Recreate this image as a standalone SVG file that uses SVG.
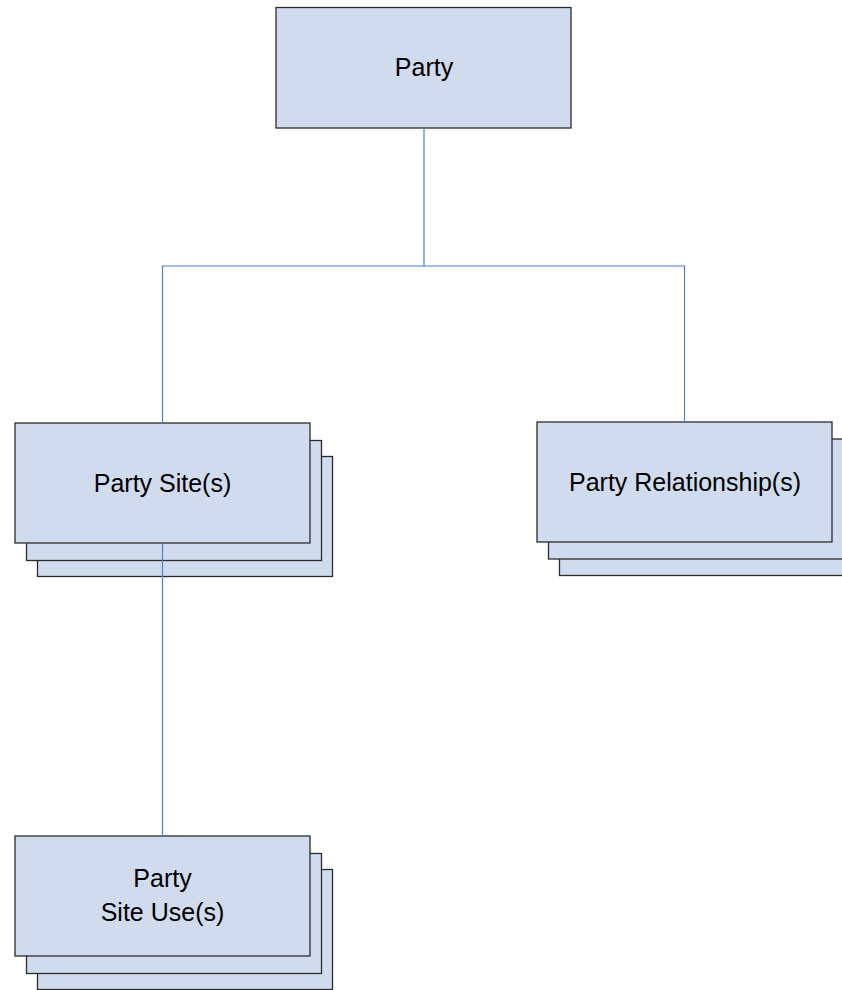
<svg xmlns="http://www.w3.org/2000/svg" width="842" height="990" viewBox="0 0 842 990">
  <style>
    .box { fill: #d0dcee; stroke: #2b2b2b; stroke-width: 1.3; }
    .label { font-family: "Liberation Sans", Arial, sans-serif; font-size: 25px; fill: #000; text-anchor: middle; }
    .conn { fill: none; stroke: #4f7fcf; stroke-width: 1.2; }
  </style>
  <rect width="842" height="990" fill="#ffffff"/>

  <!-- stacked boxes (back layers first) -->
  <g id="party-site">
    <rect class="box" x="37.5" y="456.5" width="295" height="120"/>
    <rect class="box" x="26.5" y="440.5" width="295" height="120"/>
    <rect class="box" x="15" y="423" width="295" height="120"/>
    <text class="label" x="162.5" y="492">Party Site(s)</text>
  </g>

  <g id="party-relationship">
    <rect class="box" x="559.5" y="455.5" width="295" height="120"/>
    <rect class="box" x="548.5" y="439" width="295" height="120"/>
    <rect class="box" x="537" y="422" width="295" height="120"/>
    <text class="label" x="685" y="491">Party Relationship(s)</text>
  </g>

  <g id="party-site-use">
    <rect class="box" x="37.5" y="869.5" width="295" height="120"/>
    <rect class="box" x="26.5" y="853.5" width="295" height="120"/>
    <rect class="box" x="15" y="836" width="295" height="120"/>
    <text class="label" x="162.5" y="887">Party</text>
    <text class="label" x="162.5" y="921">Site Use(s)</text>
  </g>

  <g id="party">
    <rect class="box" x="276" y="7.5" width="295" height="120.5"/>
    <text class="label" x="424" y="76">Party</text>
  </g>

  <g id="connectors">
    <polyline class="conn" points="424,128 424,266 162.5,266 162.5,423"/>
    <polyline class="conn" points="424,266 684.5,266 684.5,422"/>
    <line class="conn" x1="162.5" y1="543" x2="162.5" y2="836"/>
  </g>
</svg>
